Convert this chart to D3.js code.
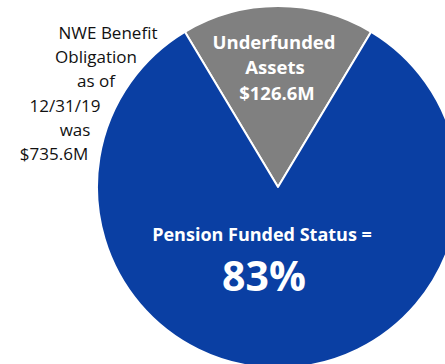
<!DOCTYPE html>
<html>
<head>
<meta charset="utf-8">
<script src="https://cdn.jsdelivr.net/npm/d3@7"></script>
<style>
  html, body { margin: 0; padding: 0; background: #fff; }
  svg { display: block; }
  text { font-family: "Open Sans", "Noto Sans", sans-serif; }
</style>
</head>
<body>
<svg id="chart" width="445" height="364"></svg>
<script>
// Pension obligation split ($M)
const categories = ["Underfunded Assets", "Funded Assets"];
const values = [126.6, 609.0];
const colors = ["#808080", "#0A3FA3"];
const benefitObligation = 735.6;
const fundedPct = "83%";

const sideLabel = ["NWE Benefit", "Obligation", "as of", "12/31/19", "was", "$735.6M"];
const wedgeLabel = ["Underfunded", "Assets", "$126.6M"];
const statusLabel = "Pension Funded Status =";

const svg = d3.select("#chart");
const cx = 278, cy = 187, r = 181;

// Grey slice centred on the top of the circle
const half = Math.PI * values[0] / d3.sum(values);
const pie = d3.pie().sort(null).value(d => d)
  .startAngle(-half).endAngle(2 * Math.PI - half);
const arc = d3.arc().innerRadius(0).outerRadius(r);

const g = svg.append("g").attr("transform", `translate(${cx},${cy})`);
g.selectAll("path")
  .data(pie(values))
  .join("path")
  .attr("d", arc)
  .attr("fill", (d, i) => colors[i])
  .attr("stroke", "#fff")
  .attr("stroke-width", 2)
  .attr("stroke-linejoin", "round");

// Labels inside the grey slice
const wedgeY = [49, 74, 100];
const wedgeX = [274, 275, 277];
svg.selectAll("text.wedge")
  .data(wedgeLabel)
  .join("text")
  .attr("class", "wedge")
  .attr("x", (d, i) => wedgeX[i])
  .attr("y", (d, i) => wedgeY[i])
  .attr("text-anchor", "middle")
  .attr("fill", "#fff")
  .attr("font-weight", 700)
  .attr("font-size", 18.5)
  .text(d => d);

// Funded status in the blue slice
svg.append("text")
  .attr("x", 262).attr("y", 241)
  .attr("text-anchor", "middle")
  .attr("fill", "#fff")
  .attr("font-weight", 700)
  .attr("font-size", 18)
  .text(statusLabel);

svg.append("text")
  .attr("x", 264).attr("y", 291)
  .attr("text-anchor", "middle")
  .attr("fill", "#fff")
  .attr("font-weight", 700)
  .attr("font-size", 41)
  .text(fundedPct);

// Obligation note to the left of the circle
const sideX = [108, 96, 96, 65, 75, 54];
const sideY = [39, 63, 87, 112, 136, 160];
svg.selectAll("text.side")
  .data(sideLabel)
  .join("text")
  .attr("class", "side")
  .attr("x", (d, i) => sideX[i])
  .attr("y", (d, i) => sideY[i])
  .attr("text-anchor", "middle")
  .attr("fill", "#111")
  .attr("font-size", 17)
  .text(d => d);
</script>
</body>
</html>
